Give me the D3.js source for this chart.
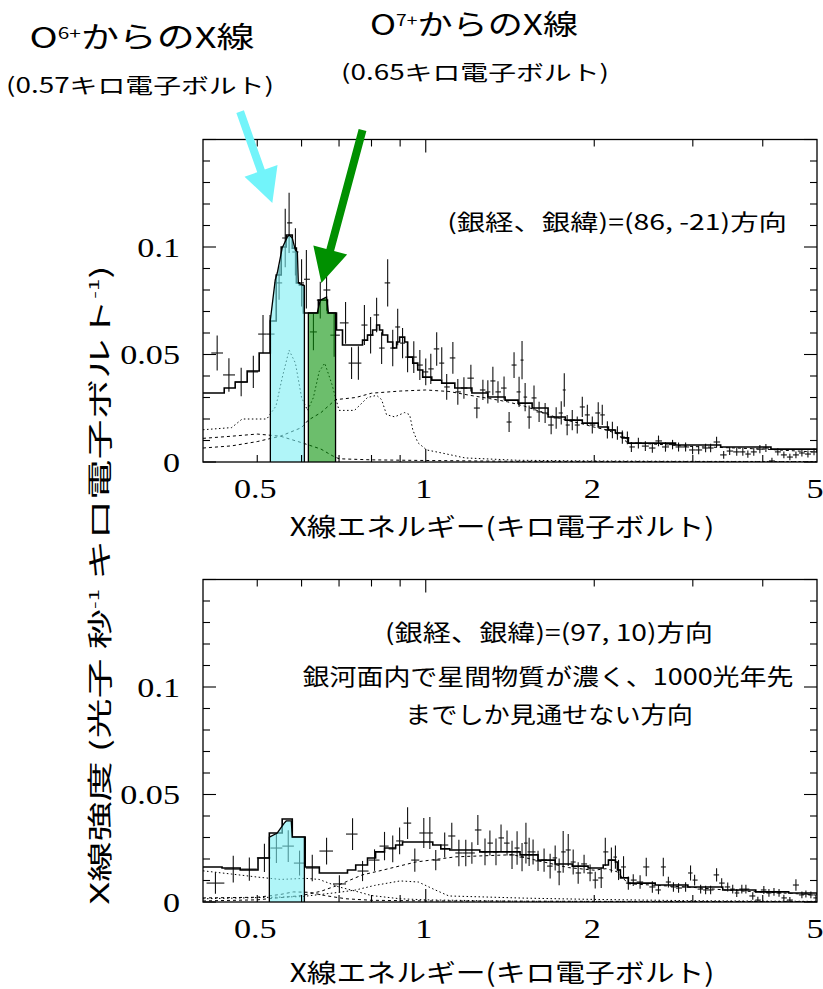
<!DOCTYPE html>
<html><head><meta charset="utf-8">
<script src="https://cdn.jsdelivr.net/npm/d3@7"></script>
<style>body{margin:0;background:#fff}</style>
</head><body>
<svg id="c" width="823" height="989"></svg>
<script>
// ---------------- DATA ----------------
// Upper panel: (l,b) = (86,-21)
const topE = [0.424,0.445,0.468,0.492,0.512,0.527,0.547,0.561,0.570,0.585,0.600,0.612,0.630,0.648,0.665,0.686,0.719,0.737,0.758,0.777,0.797,0.817,0.834,0.855,0.873,0.891,0.909,0.928,0.952,0.976,1.000,1.021,1.046,1.068,1.090,1.118,1.141,1.170,1.204,1.234,1.265,1.291,1.318,1.346,1.380,1.409,1.438,1.468,1.486,1.505,1.530,1.561,1.594,1.634,1.675,1.710,1.746,1.768,1.789,1.827,1.865,1.904,1.944,1.984,2.033,2.067,2.111,2.155,2.200,2.245,2.292,2.330,2.398,2.468,2.540,2.605,2.681,2.760,2.829,2.912,2.997,3.073,3.162,3.228,3.308,3.406,3.491,3.594,3.685,3.762,3.855,3.953,4.052,4.154,4.256,4.363,4.472,4.585,4.699,4.817,4.939];
const topV = [0.0507,0.0405,0.0372,0.0419,0.0595,0.0595,0.0833,0.1042,0.1112,0.0977,0.0833,0.0850,0.0605,0.0753,0.0800,0.0590,0.0647,0.0460,0.0460,0.0637,0.0590,0.0684,0.0530,0.0833,0.0530,0.0628,0.0553,0.0488,0.0488,0.0451,0.0419,0.0433,0.0526,0.0460,0.0349,0.0484,0.0326,0.0344,0.0390,0.0251,0.0335,0.0326,0.0377,0.0326,0.0344,0.0186,0.0451,0.0326,0.0474,0.0302,0.0209,0.0298,0.0233,0.0228,0.0172,0.0205,0.0228,0.0335,0.0172,0.0195,0.0172,0.0256,0.0219,0.0172,0.0228,0.0219,0.0149,0.0149,0.0135,0.0116,0.0112,0.0070,0.0088,0.0074,0.0065,0.0098,0.0070,0.0081,0.0070,0.0070,0.0056,0.0056,0.0065,0.0065,0.0093,0.0033,0.0051,0.0047,0.0047,0.0037,0.0047,0.0060,0.0065,0.0005,0.0047,0.0033,0.0023,0.0033,0.0042,0.0037,0.0047];
const topErr = [0.0081,0.0078,0.0066,0.0075,0.0089,0.0089,0.0078,0.0136,0.0140,0.0110,0.0110,0.0136,0.0085,0.0085,0.0097,0.0100,0.0097,0.0074,0.0078,0.0093,0.0085,0.0080,0.0074,0.0110,0.0085,0.0085,0.0070,0.0070,0.0074,0.0070,0.0062,0.0070,0.0078,0.0074,0.0060,0.0074,0.0060,0.0050,0.0062,0.0047,0.0047,0.0054,0.0066,0.0050,0.0054,0.0047,0.0060,0.0070,0.0089,0.0066,0.0054,0.0058,0.0047,0.0047,0.0043,0.0050,0.0054,0.0078,0.0047,0.0047,0.0040,0.0047,0.0047,0.0040,0.0050,0.0047,0.0040,0.0038,0.0031,0.0031,0.0030,0.0023,0.0025,0.0023,0.0022,0.0025,0.0022,0.0022,0.0021,0.0021,0.0020,0.0020,0.0020,0.0020,0.0024,0.0018,0.0019,0.0018,0.0018,0.0017,0.0018,0.0019,0.0019,0.0015,0.0017,0.0016,0.0015,0.0016,0.0016,0.0016,0.0016];
// total model (step starts)
const topModelE = [0.4,0.4365,0.4566,0.4797,0.504,0.5277,0.5406,0.5518,0.5633,0.5775,0.5873,0.5946,0.6045,0.643,0.6674,0.6927,0.71,0.771,0.787,0.8035,0.817,0.827,0.8374,0.855,0.873,0.887,0.898,0.917,0.928,0.948,0.9676,0.9876,1.025,1.068,1.127,1.209,1.291,1.386,1.462,1.549,1.654,1.775,1.904,2.033,2.12,2.182,2.245,2.301,2.438,2.794,3.364,4.137,5.0];
const topModelV = [0.0321,0.0344,0.0372,0.0423,0.0507,0.0656,0.0870,0.1000,0.1056,0.0995,0.0833,0.0823,0.0693,0.0753,0.0693,0.0614,0.0544,0.0567,0.0591,0.0614,0.0637,0.0614,0.0591,0.0558,0.0530,0.0558,0.0581,0.0558,0.0488,0.0460,0.0428,0.0395,0.0381,0.0367,0.0344,0.0321,0.0302,0.0288,0.0274,0.0251,0.0209,0.0195,0.0181,0.0163,0.0149,0.0135,0.0112,0.0088,0.0088,0.0079,0.0070,0.0060,0.0047];
// model components
const topC1E = [0.40,0.45,0.47,0.52,0.54,0.555,0.57,0.585,0.60,0.615,0.63,0.645,0.66,0.68,0.70,0.746,0.787,0.817,0.834,0.851,0.88,0.917,0.936,0.948,0.968,1.004,1.068,1.175,1.46,2.0,3.0,5.0];
const topC1V = [0.015,0.016,0.020,0.020,0.026,0.040,0.052,0.046,0.030,0.024,0.030,0.042,0.046,0.036,0.024,0.024,0.030,0.031,0.029,0.022,0.021,0.023,0.022,0.015,0.009,0.0056,0.0042,0.0019,0.0008,0.0005,0.0003,0.0002];
const topC2E = [0.40,0.45,0.50,0.55,0.60,0.617,0.65,0.69,0.75,0.80,0.90,1.0,1.1,1.2,1.3,1.4,1.5,1.6,1.7,1.8,1.9,2.0,2.1,2.2,2.3,2.5,3.0,3.5,4.0,5.0];
const topC2V = [0.0065,0.0075,0.0095,0.012,0.016,0.0195,0.023,0.029,0.030,0.032,0.033,0.0335,0.0328,0.031,0.0295,0.028,0.026,0.0235,0.021,0.0192,0.0178,0.0162,0.015,0.013,0.0087,0.0085,0.0072,0.0066,0.006,0.0046];
const topC3E = [0.40,0.45,0.50,0.55,0.60,0.65,0.68,0.70,0.80,1.0,1.5,5.0];
const topC3V = [0.011,0.012,0.013,0.012,0.009,0.006,0.003,0.0015,0.001,0.0007,0.0003,0.0001];
// O6+ (0.57 keV) and O7+ (0.65 keV) line areas
const topO6E = [0.5277,0.5384,0.543,0.554,0.566,0.5704,0.5775,0.5848,0.5897,0.5921,0.602,0.607];
const topO6V = [0.066,0.0847,0.088,0.0995,0.1047,0.1056,0.1042,0.0986,0.0977,0.0833,0.0823,0.082];
const topO7E = [0.617,0.640,0.648,0.665,0.670,0.690];
const topO7V = [0.0693,0.0693,0.0753,0.0767,0.0693,0.0693];

// Lower panel: (l,b) = (97,10)
const botE = [0.421,0.453,0.484,0.515,0.541,0.568,0.595,0.627,0.665,0.701,0.740,0.771,0.810,0.844,0.873,0.898,0.928,0.956,0.992,1.017,1.042,1.081,1.113,1.146,1.179,1.209,1.239,1.276,1.302,1.335,1.363,1.397,1.426,1.456,1.486,1.510,1.530,1.555,1.587,1.627,1.668,1.703,1.731,1.760,1.797,1.834,1.872,1.918,1.966,2.008,2.058,2.093,2.146,2.182,2.210,2.256,2.301,2.348,2.415,2.477,2.540,2.605,2.657,2.713,2.770,2.829,2.912,2.972,3.022,3.098,3.162,3.228,3.308,3.378,3.463,3.535,3.594,3.670,3.732,3.839,3.920,4.018,4.103,4.189,4.277,4.363,4.472,4.585,4.699,4.777,4.876,4.977];
const botV = [0.0088,0.0153,0.0153,0.0205,0.0251,0.0260,0.0181,0.0158,0.0237,0.0084,0.0316,0.0144,0.0195,0.0260,0.0247,0.0284,0.0367,0.0195,0.0321,0.0321,0.0195,0.0265,0.0307,0.0228,0.0228,0.0228,0.0335,0.0233,0.0274,0.0233,0.0298,0.0274,0.0219,0.0251,0.0209,0.0274,0.0233,0.0233,0.0191,0.0195,0.0167,0.0205,0.0140,0.0233,0.0242,0.0186,0.0135,0.0177,0.0135,0.0102,0.0112,0.0233,0.0195,0.0209,0.0149,0.0163,0.0088,0.0102,0.0093,0.0163,0.0070,0.0056,0.0163,0.0093,0.0070,0.0065,0.0070,0.0135,0.0102,0.0060,0.0056,0.0056,0.0126,0.0088,0.0070,0.0060,0.0042,0.0060,0.0060,0.0028,0.0009,0.0056,0.0042,0.0047,0.0042,0.0019,0.0009,0.0079,0.0033,0.0037,0.0033,0.0019];
const botErr = [0.0050,0.0062,0.0054,0.0066,0.0070,0.0074,0.0058,0.0062,0.0062,0.0040,0.0074,0.0047,0.0050,0.0066,0.0062,0.0062,0.0074,0.0054,0.0070,0.0074,0.0047,0.0058,0.0062,0.0062,0.0062,0.0050,0.0070,0.0062,0.0058,0.0062,0.0062,0.0058,0.0066,0.0078,0.0066,0.0095,0.0066,0.0058,0.0047,0.0054,0.0058,0.0058,0.0062,0.0097,0.0074,0.0058,0.0050,0.0043,0.0039,0.0039,0.0047,0.0066,0.0058,0.0054,0.0047,0.0050,0.0031,0.0027,0.0031,0.0043,0.0027,0.0020,0.0043,0.0025,0.0022,0.0022,0.0022,0.0035,0.0025,0.0020,0.0020,0.0020,0.0031,0.0023,0.0021,0.0020,0.0019,0.0020,0.0020,0.0017,0.0015,0.0019,0.0018,0.0018,0.0018,0.0015,0.0014,0.0027,0.0016,0.0016,0.0016,0.0015];
const botModelE = [0.4,0.4326,0.4662,0.5016,0.5255,0.554,0.5775,0.609,0.6455,0.7247,0.7497,0.787,0.8136,0.844,0.8835,0.909,0.9596,1.0293,1.064,1.104,1.249,1.386,1.474,1.587,1.703,1.827,1.95,2.075,2.12,2.182,2.2,2.227,2.301,2.57,2.94,3.393,3.887,4.45,5.0];
const botModelV = [0.0163,0.0158,0.0149,0.0205,0.0321,0.0386,0.0302,0.0163,0.0135,0.0149,0.0172,0.0205,0.0233,0.0251,0.0265,0.0279,0.0279,0.0265,0.0247,0.0242,0.0233,0.0233,0.0219,0.0195,0.0177,0.0167,0.0158,0.0172,0.0195,0.0186,0.0149,0.0112,0.0088,0.0079,0.0070,0.0056,0.0047,0.0042,0.0033];
const botB1E = [0.40,0.50,0.60,0.65,0.70,0.77,0.84,0.96,1.13,1.43,1.6,1.8,2.0,2.1,2.2,2.3,2.6,3.0,3.5,4.0,4.5,5.0];
const botB1V = [0.0005,0.001,0.003,0.005,0.008,0.0126,0.0149,0.0186,0.021,0.022,0.019,0.016,0.0148,0.0155,0.014,0.0085,0.0077,0.0068,0.0054,0.0046,0.004,0.0032];
const botB2E = [0.40,0.45,0.50,0.55,0.61,0.645,0.70,0.75,0.80,0.90,1.0,1.5,5.0];
const botB2V = [0.0145,0.013,0.0116,0.0105,0.011,0.0105,0.007,0.005,0.003,0.0015,0.001,0.0003,0.0001];
const botB3E = [0.40,0.60,0.70,0.75,0.81,0.90,0.97,1.04,1.10,1.25,1.5,2.0,3.0,5.0];
const botB3V = [0.0015,0.0025,0.0045,0.0056,0.0077,0.0098,0.0093,0.0056,0.0028,0.0024,0.0018,0.0012,0.0006,0.0003];
const botB4E = [0.40,0.50,0.55,0.58,0.62,0.66,0.72,0.80,1.0,2.0,5.0];
const botB4V = [0.0019,0.0022,0.0035,0.0047,0.0045,0.003,0.0015,0.0008,0.0005,0.0003,0.0002];
const botO6E = [0.5255,0.543,0.5587,0.5633,0.5751,0.5775,0.6021,0.607];
const botO6V = [0.0302,0.0321,0.0367,0.0377,0.0377,0.0302,0.0302,0.0302];

// axis ticks
const yTickVals = [0, 0.05, 0.1];
const yTickLabels = ["0", "0.05", "0.1"];
const xTickVals = [0.5, 1, 2, 5];
const xTickLabels = ["0.5", "1", "2", "5"];
const xMinor = [0.5, 0.6, 0.7, 0.8, 0.9, 2, 3, 4];
const xMajor = [1];

// ---------------- DRAWING ----------------
const svg = d3.select("#c");
svg.append("rect").attr("width", 823).attr("height", 989).attr("fill", "#fff");
const JP = "'Noto Sans CJK JP','Noto Sans',sans-serif";
const SERIF = "'Liberation Serif','DejaVu Serif',serif";

const X0 = 203, X1 = 817;
const x = d3.scaleLog().domain([0.4, 5]).range([X0, X1]);

function fitText(parent, cx, cy, width, fs, family, build, rot) {
  const t = parent.append("text").attr("x", 0).attr("y", 0)
    .attr("text-anchor", "middle").attr("dy", "0.36em")
    .attr("font-family", family).attr("font-size", fs).attr("fill", "#000");
  build(t, fs);
  const w = t.node().getBBox().width;
  const s = width / w;
  t.attr("transform", `translate(${cx},${cy}) rotate(${rot||0}) scale(${s},1)`);
  return t;
}
const plain = str => (t) => t.text(str);

function halfWidths(E) {
  const L = E.map(Math.log10);
  return E.map((e, i) => {
    const lo = i > 0 ? (L[i - 1] + L[i]) / 2 : L[i] - (L[i + 1] - L[i]) / 2;
    const hi = i < E.length - 1 ? (L[i] + L[i + 1]) / 2 : L[i] + (L[i] - L[i - 1]) / 2;
    return [Math.pow(10, lo), Math.pow(10, hi)];
  });
}

function panel(cfg) {
  const { top, bottom, idx } = cfg;
  const y = d3.scaleLinear().domain([0, 0.15]).range([bottom, top]);
  const g = svg.append("g");
  const clipId = "clip" + idx;
  svg.append("clipPath").attr("id", clipId).append("rect")
    .attr("x", X0).attr("y", top).attr("width", X1 - X0).attr("height", bottom - top);
  const pg = g.append("g").attr("clip-path", `url(#${clipId})`);

  // data crosses
  const hw = halfWidths(cfg.E);
  const cr = pg.append("g").attr("stroke", "#111").attr("stroke-width", 1.1);
  cfg.E.forEach((e, i) => {
    cr.append("line").attr("x1", x(e)).attr("x2", x(e))
      .attr("y1", y(cfg.V[i] - cfg.Err[i])).attr("y2", y(cfg.V[i] + cfg.Err[i]));
    cr.append("line").attr("x1", x(hw[i][0])).attr("x2", x(hw[i][1]))
      .attr("y1", y(cfg.V[i])).attr("y2", y(cfg.V[i]));
  });

  // components
  const ln = d3.line().x(d => x(d[0])).y(d => y(d[1]));
  cfg.comps.forEach(c => {
    pg.append("path").attr("d", ln(d3.zip(c.E, c.V)))
      .attr("fill", "none").attr("stroke", "#000").attr("stroke-width", 1)
      .attr("stroke-dasharray", c.dash);
  });

  // total model (histogram)
  const step = d3.line().x(d => x(d[0])).y(d => y(d[1])).curve(d3.curveStepAfter);
  pg.append("path").attr("d", step(d3.zip(cfg.ME, cfg.MV)))
    .attr("fill", "none").attr("stroke", "#000").attr("stroke-width", 1.6);

  // line areas
  const ar = d3.area().x(d => x(d[0])).y0(y(0)).y1(d => y(d[1]));
  cfg.areas.forEach(a => {
    const pts = d3.zip(a.E, a.V);
    pg.append("path").attr("d", ar(pts)).attr("fill", a.color).attr("fill-opacity", 0.6).attr("stroke", "none");
    const outline = [[a.E[0], 0]].concat(pts, [[a.E[a.E.length - 1], 0]]);
    pg.append("path").attr("d", ln(outline)).attr("fill", "none").attr("stroke", "#000").attr("stroke-width", 1.3);
  });

  // frame
  g.append("rect").attr("x", X0).attr("y", top).attr("width", X1 - X0).attr("height", bottom - top)
    .attr("fill", "none").attr("stroke", "#000").attr("stroke-width", 1.3);

  // ticks
  const tk = g.append("g").attr("stroke", "#000").attr("stroke-width", 1.1);
  d3.range(0, 16).forEach(k => {
    const v = k / 100;
    const len = (k % 5 === 0) ? 13 : 7;
    tk.append("line").attr("x1", X0).attr("x2", X0 + len).attr("y1", y(v)).attr("y2", y(v));
    tk.append("line").attr("x1", X1).attr("x2", X1 - len).attr("y1", y(v)).attr("y2", y(v));
  });
  xMinor.concat(xMajor).forEach(e => {
    const len = xMajor.includes(e) ? 13 : 7;
    tk.append("line").attr("x1", x(e)).attr("x2", x(e)).attr("y1", bottom).attr("y2", bottom - len);
    tk.append("line").attr("x1", x(e)).attr("x2", x(e)).attr("y1", top).attr("y2", top + len);
  });

  // tick labels
  yTickVals.forEach((v, i) => {
    g.append("text").attr("x", 0).attr("y", 0).attr("dy", "0.35em")
      .attr("text-anchor", "end").attr("font-family", SERIF).attr("font-size", 28)
      .attr("transform", `translate(180,${y(v)}) scale(1.22,1)`).text(yTickLabels[i]);
  });
  xTickVals.forEach((v, i) => {
    g.append("text").attr("x", 0).attr("y", 0).attr("dy", "0.35em")
      .attr("text-anchor", "middle").attr("font-family", SERIF).attr("font-size", 28)
      .attr("transform", `translate(${x(v) - 2},${bottom + 26}) scale(1.22,1)`).text(xTickLabels[i]);
  });

  // x title
  fitText(svg, 502, cfg.xTitleY, 425, 25, JP, plain("X線エネルギー(キロ電子ボルト)"));
  return y;
}

const yTop = panel({
  idx: 0, top: 139.5, bottom: 462, E: topE, V: topV, Err: topErr,
  ME: topModelE, MV: topModelV,
  comps: [
    { E: topC1E, V: topC1V, dash: "1.5,2.5" },
    { E: topC2E, V: topC2V, dash: "3,3" },
    { E: topC3E, V: topC3V, dash: "3,3" }
  ],
  areas: [
    { E: topO6E, V: topO6V, color: "#7beef3" },
    { E: topO7E, V: topO7V, color: "#0a930a" }
  ],
  xTitleY: 527
});
const yBot = panel({
  idx: 1, top: 579.5, bottom: 902, E: botE, V: botV, Err: botErr,
  ME: botModelE, MV: botModelV,
  comps: [
    { E: botB1E, V: botB1V, dash: "3,3" },
    { E: botB2E, V: botB2V, dash: "1.5,2.5" },
    { E: botB3E, V: botB3V, dash: "1.5,2.5" },
    { E: botB4E, V: botB4V, dash: "3,3" }
  ],
  areas: [{ E: botO6E, V: botO6V, color: "#7beef3" }],
  xTitleY: 973
});

// y title
fitText(svg, 100, 585, 640, 25, JP, (t, fs) => {
  t.append("tspan").text("X線強度 (光子 秒");
  t.append("tspan").attr("font-size", fs * 0.55).attr("dy", -fs * 0.4).text("-1");
  t.append("tspan").attr("dy", fs * 0.4).text(" キロ電子ボルト");
  t.append("tspan").attr("font-size", fs * 0.55).attr("dy", -fs * 0.4).text("-1");
  t.append("tspan").attr("dy", fs * 0.4).text(")");
}, -90);

// annotations in panels
fitText(svg, 617, 222, 340, 22, JP, plain("(銀経、銀緯)=(86, -21)方向"));
fitText(svg, 549, 633, 328, 23, JP, plain("(銀経、銀緯)=(97, 10)方向"));
fitText(svg, 548, 677, 491, 23, JP, plain("銀河面内で星間物質が濃く、1000光年先"));
fitText(svg, 549, 715, 288, 23, JP, plain("までしか見通せない方向"));

// titles
const sup = (base, s, rest) => (t, fs) => {
  t.append("tspan").text(base);
  t.append("tspan").attr("font-size", fs * 0.55).attr("dy", -fs * 0.33).text(s);
  t.append("tspan").attr("dy", fs * 0.33).text(rest);
};
fitText(svg, 142, 38, 225, 29, JP, sup("O", "6+", "からのX線"));
fitText(svg, 140, 85, 268, 21, JP, plain("(0.57キロ電子ボルト)"));
fitText(svg, 474, 25, 208, 29, JP, sup("O", "7+", "からのX線"));
fitText(svg, 475, 72, 268, 21, JP, plain("(0.65キロ電子ボルト)"));

// arrows (positioned via data scales)
const arrows = [
  { tailE: 0.466, tailV: 0.163, tipE: 0.532, tipV: 0.1205, color: "#72f4fa" },
  { tailE: 0.771, tailV: 0.1544, tipE: 0.651, tipV: 0.0833, color: "#009000" }
];
arrows.forEach(a => {
  const tx = x(a.tailE), ty = yTop(a.tailV), hx = x(a.tipE), hy = yTop(a.tipV);
  const dx = hx - tx, dy = hy - ty, L = Math.hypot(dx, dy);
  const ux = dx / L, uy = dy / L, px = -uy, py = ux;
  const headL = 34, headW = 17.5, sw = 4;
  const bx = hx - ux * headL, by = hy - uy * headL;
  const pts = [
    [tx + px * sw, ty + py * sw], [bx + px * sw, by + py * sw], [bx + px * headW, by + py * headW],
    [hx, hy], [bx - px * headW, by - py * headW], [bx - px * sw, by - py * sw], [tx - px * sw, ty - py * sw]
  ];
  svg.append("path").attr("d", "M" + pts.map(p => p.join(",")).join("L") + "Z").attr("fill", a.color);
});
</script>
</body></html>
